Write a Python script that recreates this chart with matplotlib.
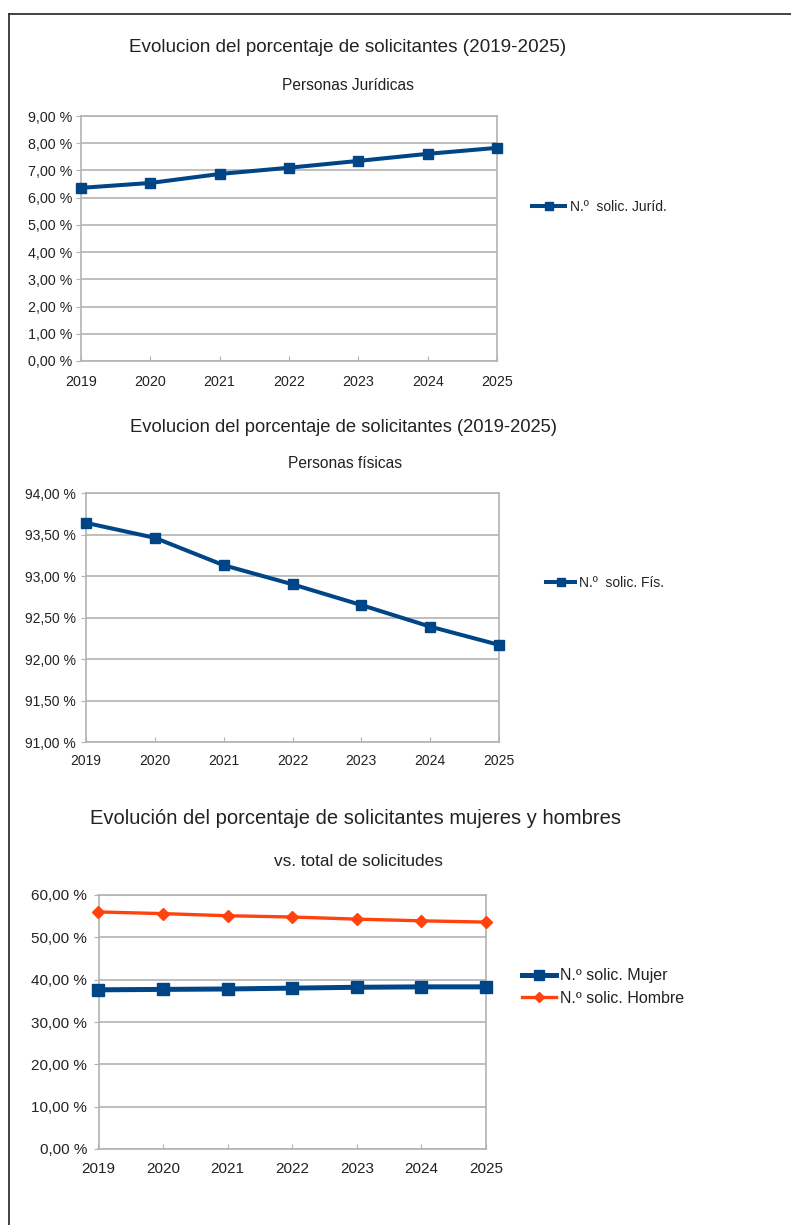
import matplotlib
matplotlib.use('Agg')
import matplotlib.pyplot as plt
from matplotlib.ticker import FuncFormatter, MultipleLocator
from matplotlib.lines import Line2D

plt.rcParams['font.family'] = ['Liberation Sans', 'DejaVu Sans']

years = [2019, 2020, 2021, 2022, 2023, 2024, 2025]
juridicas = [6.36, 6.54, 6.87, 7.10, 7.35, 7.61, 7.83]
fisicas = [93.64, 93.46, 93.13, 92.90, 92.65, 92.39, 92.17]
mujer = [37.6, 37.7, 37.8, 38.0, 38.2, 38.3, 38.3]
hombre = [56.0, 55.6, 55.1, 54.8, 54.3, 53.9, 53.6]

title_main = 'Evolucion del porcentaje de solicitantes (2019-2025)'
title_gender = 'Evolución del porcentaje de solicitantes mujeres y hombres'

NAVY = '#004586'
ORANGE = '#ff420e'
GRID = '#b3b3b3'
TXT = '#222222'

W, H = 791, 1225
fig = plt.figure(figsize=(W / 100, H / 100), dpi=100)


def px_axes(left, right, top, bottom):
    return fig.add_axes([left / W, 1 - bottom / H, (right - left) / W, (bottom - top) / H])


def pct(v, pos):
    return ('%.2f' % v).replace('.', ',') + ' %'


def style(ax, fs, ypad, xpad):
    for s in ax.spines.values():
        s.set_color(GRID)
        s.set_linewidth(1.2)
    ax.grid(axis='y', color=GRID, lw=1.2)
    ax.set_axisbelow(True)
    ax.set_xticks(years)
    ax.set_xlim(2019, 2025)
    ax.yaxis.set_major_formatter(FuncFormatter(pct))
    ax.tick_params(axis='y', direction='out', length=3.5, color=GRID, labelsize=fs,
                   labelcolor=TXT, pad=ypad)
    ax.tick_params(axis='x', direction='in', length=3.5, color=GRID, labelsize=fs,
                   labelcolor=TXT, pad=xpad)


def ftext(x, y, s, fs):
    fig.text(x / W, 1 - y / H, s, ha='center', va='center', fontsize=fs, color=TXT)


# chart 1
ax1 = px_axes(81, 497, 116, 361)
ax1.plot(years, juridicas, color=NAVY, lw=2.9, marker='s', ms=7, clip_on=False, zorder=5,
         label='N.º  solic. Juríd.')
ax1.set_ylim(0, 9)
ax1.yaxis.set_major_locator(MultipleLocator(1))
style(ax1, 10.3, 2.5, 10)
ftext(348, 47, title_main, 13.6)
ftext(348, 85, 'Personas Jurídicas', 11.2)
ax1.legend(loc='center left', bbox_to_anchor=(532 / W, 1 - 207 / H), bbox_transform=fig.transFigure,
           frameon=False, fontsize=10, handlelength=2.4, handletextpad=0.3, borderpad=0,
           borderaxespad=0, labelcolor=TXT, markerscale=0.8)

# chart 2
ax2 = px_axes(86, 499, 493, 742)
ax2.plot(years, fisicas, color=NAVY, lw=2.9, marker='s', ms=7, clip_on=False, zorder=5,
         label='N.º  solic. Fís.')
ax2.set_ylim(91, 94)
ax2.yaxis.set_major_locator(MultipleLocator(0.5))
style(ax2, 10, 4, 8.5)
ftext(343.5, 428, title_main, 13.2)
ftext(345, 463, 'Personas físicas', 11.2)
ax2.legend(loc='center left', bbox_to_anchor=(546 / W, 1 - 583 / H), bbox_transform=fig.transFigure,
           frameon=False, fontsize=10, handlelength=2.1, handletextpad=0.3, borderpad=0,
           borderaxespad=0, labelcolor=TXT, markerscale=0.8)

# chart 3
ax3 = px_axes(98.5, 486, 895, 1149)
ax3.plot(years, mujer, color=NAVY, lw=3.6, marker='s', ms=8.5, clip_on=False, zorder=5,
         label='N.º solic. Mujer')
ax3.plot(years, hombre, color=ORANGE, lw=2.4, marker='D', ms=6, clip_on=False, zorder=5,
         label='N.º solic. Hombre')
ax3.set_ylim(0, 60)
ax3.yaxis.set_major_locator(MultipleLocator(10))
style(ax3, 11, 4.7, 9.5)
ftext(356, 819, title_gender, 14.5)
ftext(358, 862, 'vs. total de solicitudes', 12.4)
ax3.legend(loc='center left', bbox_to_anchor=(522 / W, 1 - 987 / H), bbox_transform=fig.transFigure,
           frameon=False, fontsize=11.5, handlelength=2.1, handletextpad=0.3, borderpad=0,
           borderaxespad=0, labelspacing=0.45, labelcolor=TXT, markerscale=0.8)

# frame
fig.add_artist(Line2D([9 / W, 1], [1 - 14 / H, 1 - 14 / H], color='#333333', lw=1.3))
fig.add_artist(Line2D([9 / W, 9 / W], [0, 1 - 14 / H], color='#333333', lw=1.3))

fig.savefig('out.png', dpi=100)
